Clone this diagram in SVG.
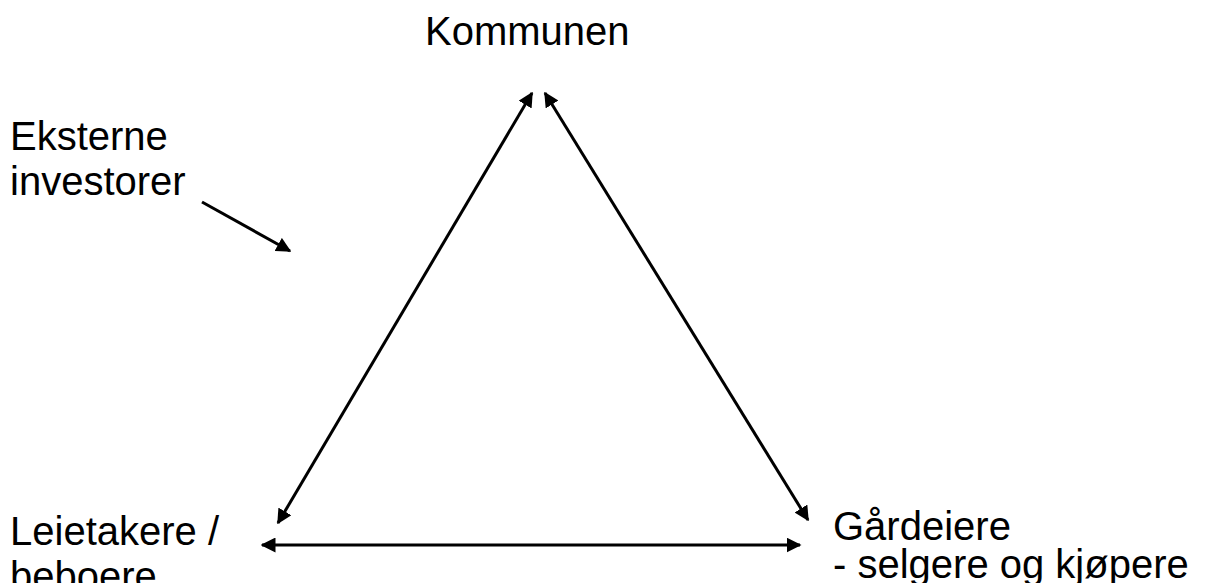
<svg xmlns="http://www.w3.org/2000/svg" width="1208" height="583" viewBox="0 0 1208 583">
<style>
text{font-family:"Liberation Sans",Arial,sans-serif;font-size:40px;fill:#000}
.c{stroke:#000;stroke-width:3;fill:none}
</style>
<defs>
<marker id="ah" viewBox="0 0 10 10" refX="9" refY="5" markerWidth="5" markerHeight="5" orient="auto-start-reverse" markerUnits="strokeWidth">
<path d="M0,0 L10,5 L0,10 z" fill="#000"/>
</marker>
</defs>
<rect width="1208" height="583" fill="#fff"/>
<g id="connectors">
<line class="c" x1="278" y1="523" x2="532" y2="93" marker-start="url(#ah)" marker-end="url(#ah)"/>
<line class="c" x1="545" y1="93" x2="808" y2="520" marker-start="url(#ah)" marker-end="url(#ah)"/>
<line class="c" x1="262" y1="545" x2="800" y2="545" marker-start="url(#ah)" marker-end="url(#ah)"/>
<line class="c" x1="202" y1="202" x2="290" y2="251" marker-end="url(#ah)"/>
</g>
<g id="kommunen"><text x="425" y="45">Kommunen</text></g>
<g id="investorer"><text x="10" y="150">Eksterne</text><text x="10" y="195">investorer</text></g>
<g id="leietakere"><text x="10" y="545">Leietakere /</text><text x="10" y="590">beboere</text></g>
<g id="gardeiere"><text x="833" y="540">Gårdeiere</text><text x="833" y="578">- selgere og kjøpere</text></g>
</svg>
